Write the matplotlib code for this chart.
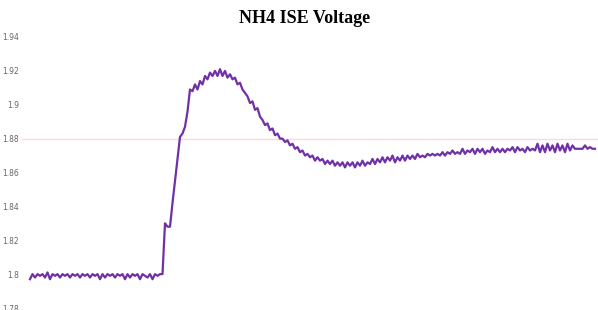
import numpy as np
import matplotlib
matplotlib.use("Agg")
import matplotlib.pyplot as plt

# NH4 ISE voltage readings
baseline = [1.797, 1.800, 1.798, 1.800, 1.799, 1.800, 1.798, 1.801, 1.797, 1.800,
            1.799, 1.800, 1.798, 1.800, 1.799, 1.800, 1.798, 1.800, 1.799, 1.800,
            1.798, 1.800, 1.799, 1.800, 1.798, 1.800, 1.799, 1.800, 1.797, 1.800,
            1.798, 1.800, 1.799, 1.800, 1.798, 1.800, 1.799, 1.800, 1.797, 1.800,
            1.798, 1.800, 1.799, 1.800, 1.797, 1.800, 1.799, 1.798, 1.800, 1.797,
            1.800, 1.799, 1.800, 1.800]
rise = [1.830, 1.828, 1.828, 1.842, 1.855, 1.868, 1.881, 1.883, 1.887, 1.896,
        1.909, 1.908, 1.912, 1.909, 1.914, 1.912, 1.917, 1.915, 1.919, 1.917,
        1.920, 1.917, 1.921, 1.917, 1.920, 1.916, 1.918, 1.915, 1.916, 1.912]
decay = [1.913, 1.909, 1.907, 1.905, 1.901, 1.902, 1.897, 1.898, 1.893, 1.891,
         1.888, 1.889, 1.885, 1.886, 1.882, 1.883, 1.880, 1.880, 1.878, 1.879,
         1.876, 1.877, 1.874, 1.875, 1.872, 1.873, 1.870, 1.871, 1.869, 1.870,
         1.867, 1.869, 1.867, 1.868, 1.865, 1.867, 1.865, 1.867, 1.864, 1.866,
         1.864, 1.866, 1.863, 1.866, 1.864, 1.866, 1.863, 1.866, 1.864, 1.867,
         1.864, 1.866, 1.865, 1.868, 1.865, 1.868, 1.866, 1.869, 1.866, 1.869]
settle = [1.867, 1.870, 1.866, 1.869, 1.867, 1.870, 1.867, 1.870, 1.868, 1.870,
          1.868, 1.871, 1.869, 1.870, 1.869, 1.871, 1.870, 1.871, 1.870, 1.871,
          1.870, 1.872, 1.870, 1.872, 1.871, 1.873, 1.871, 1.872, 1.871, 1.874,
          1.871, 1.873, 1.872, 1.874, 1.871, 1.874, 1.872, 1.874, 1.871, 1.873,
          1.872, 1.875, 1.872, 1.874, 1.872, 1.874, 1.872, 1.874, 1.873, 1.875,
          1.872, 1.875, 1.873, 1.874, 1.872, 1.875, 1.873, 1.874, 1.873, 1.877,
          1.872, 1.876, 1.872, 1.877, 1.873, 1.876, 1.872, 1.877, 1.873, 1.876,
          1.872, 1.877, 1.873, 1.876, 1.874, 1.874, 1.874, 1.874, 1.876, 1.874,
          1.875, 1.874, 1.874]
voltage = baseline + rise + decay + settle
ref_level = 1.88
yticks = [1.78, 1.8, 1.82, 1.84, 1.86, 1.88, 1.9, 1.92, 1.94]
ytick_labels = ["1.78", "1.8", "1.82", "1.84", "1.86", "1.88", "1.9", "1.92", "1.94"]

fig = plt.figure(figsize=(5.98, 3.10), dpi=100)
ax = fig.add_axes([22 / 598, 2 / 310, 576 / 598, 271 / 310])

n = len(voltage)
idx = np.arange(n)
ax.axhline(ref_level, color="#ffd6e0", lw=1.0, zorder=1)
ax.plot(idx, voltage, color="#7030a8", lw=1.6, zorder=2)

ax.set_xlim(-3.2, n - 1 + 1.2)
ax.set_ylim(1.78, 1.94)
ax.set_yticks(yticks)
ax.set_yticklabels(ytick_labels)
ax.set_xticks([])
ax.tick_params(axis="y", length=0, pad=2, labelsize=5.5, labelcolor="#666666")
for s in ax.spines.values():
    s.set_visible(False)

fig.text(0.51, 0.94, "NH4 ISE Voltage", ha="center", va="center",
         fontsize=13, fontweight="bold", family="Liberation Serif")

fig.savefig("out.png", dpi=100)
